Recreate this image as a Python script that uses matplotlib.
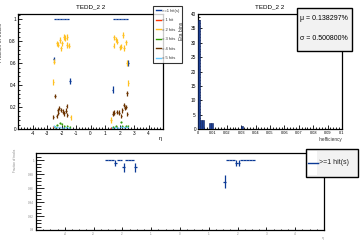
import numpy as np
import matplotlib
matplotlib.use("Agg")
import matplotlib.pyplot as plt
from matplotlib.lines import Line2D
from matplotlib.patches import Rectangle
from matplotlib.ticker import MultipleLocator, FuncFormatter

plt.rcParams['font.family'] = ['Liberation Sans', 'DejaVu Sans']

# ---- top left: fraction of tracks vs eta, by number of hits ----
eta_ge1 = [-2.55, -2.45, -2.35, -2.25, -2.15, -2.05, -1.95, -1.85, -1.75, -1.65, -1.55, -1.42,
           1.52, 1.62, 1.72, 1.82, 1.92, 2.02, 2.12, 2.22, 2.32, 2.42, 2.52, 2.61]
frac_ge1 = [0.64, 1, 1, 1, 1, 1, 1, 1, 1, 1, 1, 0.44,
            0.36, 1, 1, 1, 1, 1, 1, 1, 1, 1, 1, 0.60]
err_ge1 = [0.02, 0, 0, 0, 0, 0, 0, 0, 0, 0, 0, 0.026,
           0.03, 0, 0, 0, 0, 0, 0, 0, 0, 0, 0, 0.025]

eta_1 = [-2.57, 1.40]
frac_1 = [0.02, 0.005]

eta_2 = [-2.56, -2.53, -2.30, -2.23, -2.12, -2.05, -1.96, -1.84, -1.77, -1.63, -1.59, -1.47, -1.38,
         1.41, 1.59, 1.63, 1.75, 1.82, 2.04, 2.13, 2.24, 2.31, 2.43, 2.49, 2.61]
frac_2 = [0.43, 0.615, 0.78, 0.77, 0.81, 0.735, 0.78, 0.84, 0.83, 0.765, 0.84, 0.76, 0.107,
          0.08, 0.76, 0.836, 0.818, 0.797, 0.745, 0.75, 0.858, 0.74, 0.79, 0.60, 0.42]

eta_3 = [-2.45, -2.30, -2.10, -2.00, -1.80, -1.60, -1.45, 1.55, 1.75, 2.09, 2.20, 2.43, 2.55]
frac_3 = [0.015, 0.04, 0.052, 0.045, 0.03, 0.03, 0.02, 0.015, 0.027, 0.061, 0.027, 0.03, 0.03]

eta_4 = [-2.56, -2.45, -2.33, -2.27, -2.22, -2.15, -2.04, -1.93, -1.81, -1.70, -1.65, -1.59,
         1.55, 1.63, 1.81, 1.97, 2.13, 2.20, 2.32, 2.36, 2.43, 2.50, 2.54]
frac_4 = [0.107, 0.30, 0.118, 0.173, 0.149, 0.19, 0.173, 0.158, 0.143, 0.167, 0.212, 0.128,
          0.14, 0.149, 0.155, 0.15, 0.118, 0.17, 0.22, 0.19, 0.20, 0.325, 0.137]

eta_5 = [-2.55, -2.45, -2.30, -2.10, -1.90, -1.70, -1.50, 1.50, 1.70, 1.90, 2.10, 2.30, 2.50]
frac_5 = [0.03, 0.02, 0.015, 0.015, 0.01, 0.015, 0.01, 0.01, 0.015, 0.01, 0.02, 0.015, 0.02]

legend_labels = ['>=1 hit(s)', '= 1 hit', '= 2 hits', '= 3 hits', '= 4 hits', '= 5 hits']

# ---- top right: inefficiency distribution over eta bins ----
ineff_lo = [0.0000, 0.0015, 0.0030, 0.0075, 0.0090, 0.0300]
ineff_count = [38, 3, 3, 2, 2, 1]
mean_txt = '\u03bc = 0.138297%'
sigma_txt = '\u03c3 = 0.500800%'

# ---- bottom: >=1 hit fraction, zoomed ----
eta_b = [-2.55, -2.45, -2.35, -2.25, -2.15, -2.05, -1.95, -1.85, -1.75, -1.65, -1.55,
         1.55, 1.65, 1.75, 1.85, 1.95, 2.05, 2.15, 2.25, 2.35, 2.45, 2.55]
frac_b = [1, 1, 1, 0.996, 1, 1, 0.9896, 1, 1, 1, 0.9896,
          0.969, 1, 1, 1, 0.996, 0.996, 1, 1, 1, 1, 1]
err_b = [0, 0, 0, 0.004, 0, 0, 0.006, 0, 0, 0, 0.006,
         0.0095, 0, 0, 0, 0.004, 0.004, 0, 0, 0, 0, 0]

colors = ['#0b3a96', '#ff3300', '#ffc020', '#2f9a00', '#6b3300', '#66c8ff']

fig = plt.figure(figsize=(3.6, 2.4), dpi=100)

def style_axis(ax, lw=0.9):
    for s in ax.spines.values():
        s.set_linewidth(lw)
    ax.tick_params(which='both', direction='in', top=False, right=False, width=0.6,
                   labelsize=3.4, pad=1.5)

# hide the labels at the very ends of the eta axis
eta_fmt = FuncFormatter(lambda v, p: '' if abs(v) > 4.5 else '%g' % v)
num_fmt = FuncFormatter(lambda v, p: '%g' % round(v, 6))

# top left
ax1 = fig.add_axes([0.05, 0.4625, 0.403, 0.479])
series = [(eta_ge1, frac_ge1, err_ge1), (eta_1, frac_1, 0.005), (eta_2, frac_2, 0.025),
          (eta_3, frac_3, 0.01), (eta_4, frac_4, 0.02), (eta_5, frac_5, 0.006)]
for (x, y, e), c in zip(series, colors):
    ax1.errorbar(x, y, yerr=e, xerr=0.05, fmt='none', ecolor=c, elinewidth=0.9, capsize=0)
ax1.set_xlim(-5, 5)
ax1.set_ylim(0, 1.048)
style_axis(ax1)
ax1.xaxis.set_major_locator(MultipleLocator(1))
ax1.xaxis.set_minor_locator(MultipleLocator(0.2))
ax1.yaxis.set_major_locator(MultipleLocator(0.2))
ax1.yaxis.set_minor_locator(MultipleLocator(0.04))
ax1.xaxis.set_major_formatter(eta_fmt)
ax1.yaxis.set_major_formatter(num_fmt)
ax1.tick_params(which='major', length=3)
ax1.tick_params(which='minor', length=1.6)
ax1.set_title('TEDD_2 2', fontsize=4.5, pad=4)
ax1.set_ylabel('Fraction of tracks', fontsize=3.6, color='#333333')
ax1.yaxis.set_label_coords(-0.1, 0.75)
ax1.set_xlabel('\u03b7', fontsize=4)
ax1.xaxis.set_label_coords(0.98, -0.06)
handles = [Line2D([], [], color=c, lw=1) for c in colors]
leg = ax1.legend(handles, legend_labels, loc='upper left', bbox_to_anchor=(153 / 360, 1 - 6 / 240),
                 bbox_transform=fig.transFigure, fontsize=3.0, handlelength=1.2, handletextpad=0.3,
                 borderpad=0.7, labelspacing=1.3, frameon=True, fancybox=False, borderaxespad=0)
leg.get_frame().set_edgecolor('black')
leg.get_frame().set_linewidth(0.8)
for t in leg.get_texts():
    t.set_color('#333333')

# top right
ax2 = fig.add_axes([0.55, 0.4625, 0.4, 0.479])
ax2.bar(ineff_lo, ineff_count, width=0.0015, align='edge', color='#1c3f94',
        edgecolor='#0a1f5c', linewidth=0.4, zorder=3)
ax2.set_xlim(0, 0.1)
ax2.set_ylim(0, 40)
style_axis(ax2)
ax2.xaxis.set_major_locator(MultipleLocator(0.01))
ax2.xaxis.set_minor_locator(MultipleLocator(0.002))
ax2.yaxis.set_major_locator(MultipleLocator(5))
ax2.yaxis.set_minor_locator(MultipleLocator(1))
ax2.xaxis.set_major_formatter(num_fmt)
ax2.tick_params(which='major', length=3)
ax2.tick_params(which='minor', length=1.6)
ax2.tick_params(axis='x', labelsize=2.8)
ax2.set_title('TEDD_2 2', fontsize=4.5, pad=4)
ax2.set_ylabel('Eta bins', fontsize=3.6, color='#333333')
ax2.yaxis.set_label_coords(-0.1, 0.85)
ax2.set_xlabel('Inefficiency', fontsize=3.4, color='#333333', ha='right')
ax2.xaxis.set_label_coords(1.0, -0.07)
fig.patches.append(Rectangle((297 / 360, 1 - 51 / 240), 55 / 360, 43 / 240, transform=fig.transFigure,
                             facecolor='#f2f2f2', edgecolor='black', linewidth=1.0, zorder=5))
fig.text(300 / 360, 1 - 19 / 240, mean_txt, fontsize=5, va='center', zorder=6)
fig.text(300 / 360, 1 - 38 / 240, sigma_txt, fontsize=5, va='center', zorder=6)

# bottom
ax3 = fig.add_axes([0.1, 0.0417, 0.8, 0.32])
ax3.errorbar(eta_b, frac_b, yerr=err_b, xerr=0.05, fmt='none', ecolor=colors[0],
             elinewidth=0.9, capsize=0)
ax3.set_xlim(-5, 5)
ax3.set_ylim(0.9, 1.01)
style_axis(ax3)
ax3.xaxis.set_major_locator(MultipleLocator(1))
ax3.xaxis.set_minor_locator(MultipleLocator(0.25))
ax3.yaxis.set_major_locator(MultipleLocator(0.02))
ax3.yaxis.set_minor_locator(MultipleLocator(0.005))
ax3.xaxis.set_major_formatter(eta_fmt)
ax3.yaxis.set_major_formatter(num_fmt)
ax3.tick_params(axis='y', which='major', length=6)
ax3.tick_params(axis='y', which='minor', length=3.5)
ax3.tick_params(axis='x', which='major', length=2)
ax3.tick_params(axis='x', which='minor', length=1)
ax3.tick_params(labelsize=2.2, labelcolor='#888888')
ax3.set_ylabel('Fraction of tracks', fontsize=2.2, color='#888888')
ax3.yaxis.set_label_coords(-0.065, 0.9)
ax3.set_xlabel('\u03b7', fontsize=2.5, color='#888888')
ax3.xaxis.set_label_coords(0.995, -0.08)
fig.patches.append(Rectangle((306 / 360, 1 - 177 / 240), 52 / 360, 28 / 240, transform=fig.transFigure,
                             facecolor='#f2f2f2', edgecolor='black', linewidth=1.0, zorder=5))
fig.patches.append(Rectangle((308 / 360, 1 - 175 / 240), 9 / 360, 24 / 240, transform=fig.transFigure,
                             facecolor='white', edgecolor='none', zorder=6))
fig.lines.append(Line2D([308 / 360, 318 / 360], [1 - 163 / 240, 1 - 163 / 240], transform=fig.transFigure,
                        color=colors[0], lw=1.0, zorder=7))
fig.text(319 / 360, 1 - 163 / 240, '>=1 hit(s)', fontsize=5, va='center', color='#222222', zorder=7)

fig.savefig('out.png', dpi=100)
